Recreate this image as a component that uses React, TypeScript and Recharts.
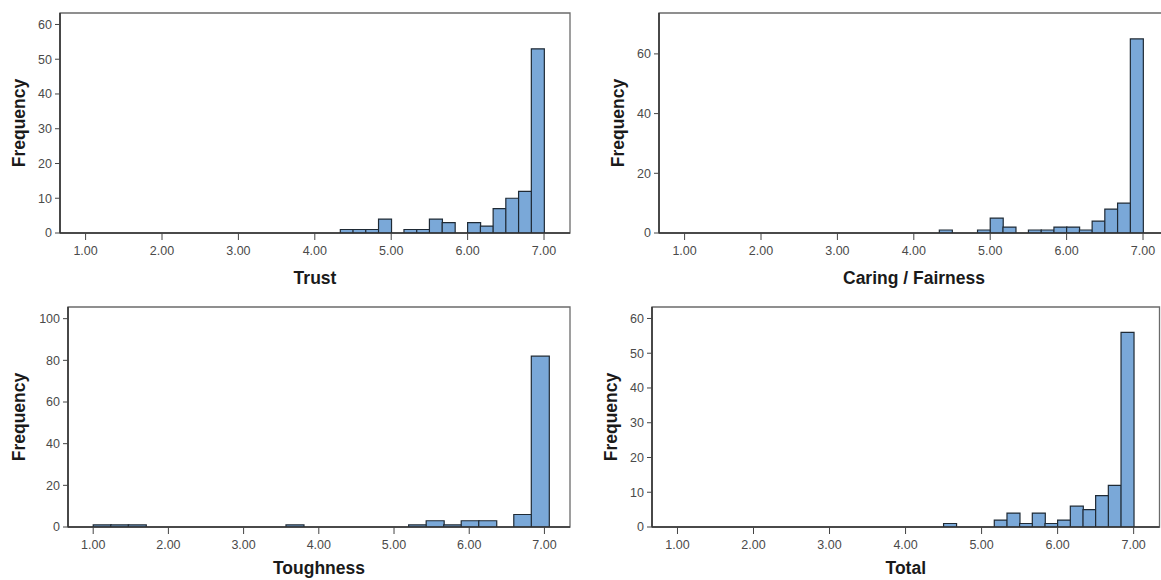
import { BarChart, Bar, XAxis, YAxis, ReferenceArea } from "recharts";

// x tick values (score scale 1..7)
const xTicks = [1, 2, 3, 4, 5, 6, 7];

// Trust: bin centers + counts
const trustBins = [4.417, 4.583, 4.75, 4.917, 5.083, 5.25, 5.417, 5.583, 5.75, 5.917, 6.083, 6.25, 6.417, 6.583, 6.75, 6.917];
const trustCounts = [1, 1, 1, 4, 0, 1, 1, 4, 3, 0, 3, 2, 7, 10, 12, 53];

// Caring / Fairness
const caringBins = [4.417, 4.583, 4.75, 4.917, 5.083, 5.25, 5.417, 5.583, 5.75, 5.917, 6.083, 6.25, 6.417, 6.583, 6.75, 6.917];
const caringCounts = [1, 0, 0, 1, 5, 2, 0, 1, 1, 2, 2, 1, 4, 8, 10, 65];

// Toughness (wider bins)
const toughBins = [1.117, 1.35, 1.583, 1.816, 2.049, 2.282, 2.515, 2.748, 2.981, 3.214, 3.447, 3.68, 3.913, 4.146, 4.379, 4.612, 4.845, 5.078, 5.311, 5.544, 5.777, 6.01, 6.243, 6.476, 6.709, 6.942];
const toughCounts = [1, 1, 1, 0, 0, 0, 0, 0, 0, 0, 0, 1, 0, 0, 0, 0, 0, 0, 1, 3, 1, 3, 3, 0, 6, 82];

// Total
const totalBins = [4.583, 4.75, 4.917, 5.083, 5.25, 5.417, 5.583, 5.75, 5.917, 6.083, 6.25, 6.417, 6.583, 6.75, 6.917];
const totalCounts = [1, 0, 0, 0, 2, 4, 1, 4, 1, 2, 6, 5, 9, 12, 56];

const xDomain: [number, number] = [0.665, 7.34];
const FONT = '"Liberation Sans", Arial, sans-serif';
const PLOT_H = 220;
const Y_W = 60;

const panels = [
  { title: "Trust", bins: trustBins, counts: trustCounts, yMax: 63.3, yTicks: [0, 10, 20, 30, 40, 50, 60], left: 60, top: 13.3, plotW: 510, freqOff: -35.5, titleDy: 51 },
  { title: "Caring / Fairness", bins: caringBins, counts: caringCounts, yMax: 73.7, yTicks: [0, 20, 40, 60], left: 659, top: 13.3, plotW: 510, freqOff: -35.5, titleDy: 51 },
  { title: "Toughness", bins: toughBins, counts: toughCounts, yMax: 105.6, yTicks: [0, 20, 40, 60, 80, 100], left: 67.8, top: 307.3, plotW: 502, freqOff: -43, titleDy: 47 },
  { title: "Total", bins: totalBins, counts: totalCounts, yMax: 63.3, yTicks: [0, 10, 20, 30, 40, 50, 60], left: 651.5, top: 307.3, plotW: 507.5, freqOff: -35.5, titleDy: 47 },
];

// x axis title, centred under plot
const XTitle = ({ viewBox, value, dy }: any) => {
  if (!viewBox) return null;
  const { x, y, width } = viewBox;
  return (
    <text x={x + width / 2} y={y + dy} textAnchor="middle" fill="#1a1a1a" fontSize={17.5} fontWeight={700} fontFamily={FONT}>
      {value}
    </text>
  );
};

// rotated "Frequency"
const YTitle = ({ viewBox, off }: any) => {
  if (!viewBox) return null;
  const { x, y, width, height } = viewBox;
  const cx = x + width + off;
  const cy = y + height / 2;
  return (
    <text x={cx} y={cy} transform={`rotate(-90, ${cx}, ${cy})`} textAnchor="middle" fill="#1a1a1a" fontSize={17.5} fontWeight={700} fontFamily={FONT}>
      Frequency
    </text>
  );
};

function Histogram({ p }: { p: (typeof panels)[number] }) {
  const data = p.bins.map((b, i) => ({ x: b, count: p.counts[i] }));
  const w = Y_W + p.plotW + 10;
  const h = 10 + PLOT_H + 70;
  return (
    <div style={{ position: "absolute", left: p.left - Y_W, top: p.top - 10, fontFamily: FONT }}>
      <BarChart width={w} height={h} data={data} margin={{ top: 10, right: 10, left: 0, bottom: 0 }} barCategoryGap={0} barGap={0}>
        <ReferenceArea x1={xDomain[0]} x2={xDomain[1]} y1={0} y2={p.yMax} fill="none" stroke="#6b6b6b" strokeWidth={1.3} ifOverflow="visible" />
        <XAxis
          dataKey="x"
          type="number"
          domain={xDomain}
          allowDataOverflow
          ticks={xTicks}
          interval={0}
          tickFormatter={(v: number) => v.toFixed(2)}
          height={70}
          tickSize={7}
          tickMargin={6}
          tick={{ fill: "#4a4a4a", fontSize: 12.5 }}
          tickLine={{ stroke: "#444" }}
          axisLine={{ stroke: "#333", strokeWidth: 1.6 }}
          label={<XTitle value={p.title} dy={p.titleDy} />}
        />
        <YAxis
          type="number"
          domain={[0, p.yMax]}
          allowDataOverflow
          ticks={p.yTicks}
          interval={0}
          width={Y_W}
          tickSize={5}
          tickMargin={3}
          tick={{ fill: "#4a4a4a", fontSize: 12.5 }}
          tickLine={{ stroke: "#444" }}
          axisLine={{ stroke: "#333", strokeWidth: 1.6 }}
          label={<YTitle off={p.freqOff} />}
        />
        <Bar dataKey="count" fill="#7AA8D8" stroke="#1f2a35" strokeWidth={1.2} isAnimationActive={false} />
      </BarChart>
    </div>
  );
}

export default function App() {
  return (
    <div style={{ position: "fixed", left: 0, top: 0, width: 1161, height: 580, overflow: "hidden", background: "#fff" }}>
      {panels.map((p) => (
        <Histogram key={p.title} p={p} />
      ))}
    </div>
  );
}
